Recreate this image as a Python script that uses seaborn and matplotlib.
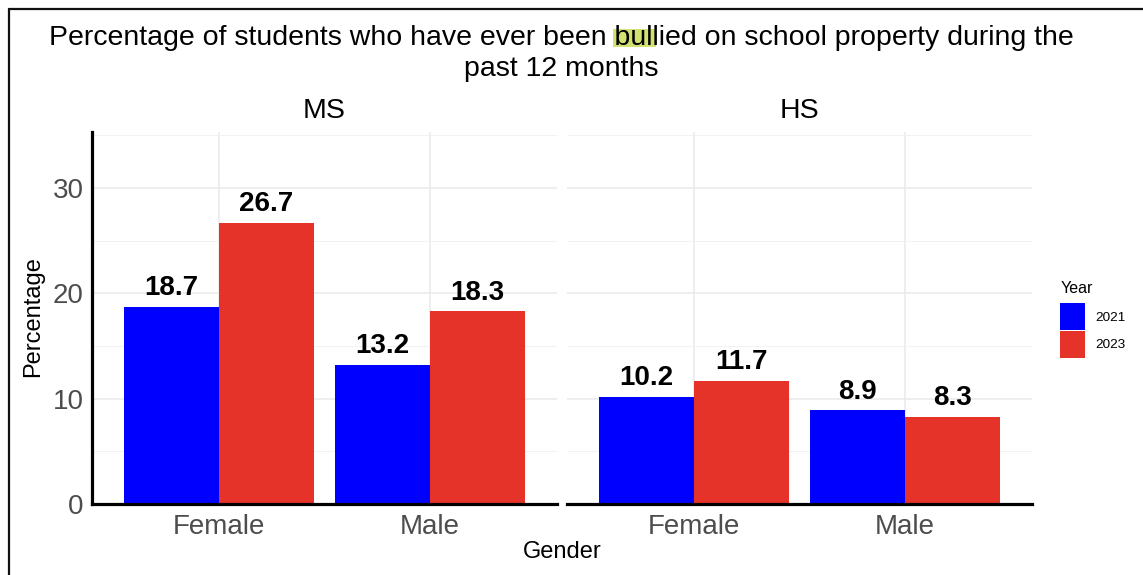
import matplotlib
matplotlib.use("Agg")
import numpy as np
import pandas as pd
import matplotlib.pyplot as plt
import seaborn as sns
from matplotlib.patches import Patch, Rectangle
from matplotlib.lines import Line2D

# data
levels = ["MS", "HS"]
genders = ["Female", "Male"]
years = ["2021", "2023"]
ms_2021 = [18.7, 13.2]
ms_2023 = [26.7, 18.3]
hs_2021 = [10.2, 8.9]
hs_2023 = [11.7, 8.3]

colors = {"2021": "#0000FF", "2023": "#E6332A"}

rows = []
for lvl, v21, v23 in [("MS", ms_2021, ms_2023), ("HS", hs_2021, hs_2023)]:
    for g, a, b in zip(genders, v21, v23):
        rows.append({"Level": lvl, "Gender": g, "Year": "2021", "Percentage": a})
        rows.append({"Level": lvl, "Gender": g, "Year": "2023", "Percentage": b})
df = pd.DataFrame(rows)

sns.set_theme(style="white")
plt.rcParams['font.family'] = ['Liberation Sans', 'DejaVu Sans']
plt.rcParams['text.color'] = 'black'

W, H = 1143, 575
fig = plt.figure(figsize=(W / 100, H / 100), dpi=100)


def box(x0, x1, ytop, ybot):
    return [x0 / W, 1 - ybot / H, (x1 - x0) / W, (ybot - ytop) / H]


panels = {"MS": (92, 557), "HS": (567, 1032)}
for i, lvl in enumerate(levels):
    x0, x1 = panels[lvl]
    ax = fig.add_axes(box(x0, x1, 132, 504))
    sub = df[df["Level"] == lvl]
    sns.barplot(data=sub, x="Gender", y="Percentage", hue="Year", order=genders,
                hue_order=years, palette=colors, width=0.9, gap=0, saturation=1,
                edgecolor="none", legend=False, ax=ax)
    ax.set_xlim(-0.6, 1.6)
    ax.set_ylim(0, 35.3)
    ax.set_yticks([0, 10, 20, 30])
    ax.set_yticks([5, 15, 25, 35], minor=True)
    ax.set_axisbelow(True)
    ax.grid(which="major", axis="both", color="#EBEBEB", lw=1.2)
    ax.grid(which="minor", axis="y", color="#F2F2F2", lw=0.7)
    for s in ax.spines.values():
        s.set_visible(False)
    ax.spines["bottom"].set_visible(True)
    ax.spines["bottom"].set_color("black")
    ax.spines["bottom"].set_linewidth(2.3)
    if i == 0:
        ax.spines["left"].set_visible(True)
        ax.spines["left"].set_color("black")
        ax.spines["left"].set_linewidth(2.3)
    ax.tick_params(which="both", length=0, labelsize=20, labelcolor="#4d4d4d", pad=6)
    ax.tick_params(axis="x", pad=7.5)
    if i > 0:
        ax.tick_params(axis="y", labelleft=False)
    ax.set_xlabel("")
    ax.set_ylabel("")
    for c in ax.containers:
        ax.bar_label(c, fmt="%.1f", padding=4, fontsize=20, fontweight="bold", color="black")
    fig.text((x0 + x1) / 2 / W, 1 - 111 / H, lvl, ha="center", va="center", fontsize=20.5)

# title with the highlight mark
fig.patches.append(Rectangle((613 / W, 1 - 47 / H), 43 / W, 18 / H, transform=fig.transFigure,
                             facecolor="#C9DA4C", edgecolor="none", alpha=0.8, zorder=1))
fig.text(561 / W, 1 - 25 / H,
         "Percentage of students who have ever been bullied on school property during the\npast 12 months",
         ha="center", va="top", ma="center", fontsize=20.5, linespacing=1.27)

fig.text(33 / W, 1 - 317 / H, "Percentage", rotation=90, ha="center", va="center", fontsize=17)
fig.text(562 / W, 1 - 552 / H, "Gender", ha="center", va="center", fontsize=17)

handles = [Patch(facecolor=colors[y], edgecolor="none") for y in years]
leg = fig.legend(handles, years, title="Year", loc="upper left",
                 bbox_to_anchor=(1048 / W, 1 - 269 / H), frameon=False,
                 fontsize=9.7, title_fontsize=11.5, handlelength=1.85, handleheight=2.7,
                 labelspacing=0.05, handletextpad=0.75, alignment="left")
leg._legend_box.sep = 5

# border lines of the screenshot
fig.add_artist(Line2D([8.5 / W, 8.5 / W], [0, 1 - 8.5 / H], color="#111111", lw=1.6))
fig.add_artist(Line2D([8.5 / W, 1], [1 - 8.5 / H, 1 - 8.5 / H], color="#111111", lw=1.6))

fig.savefig("out.png", dpi=100, facecolor="white")
